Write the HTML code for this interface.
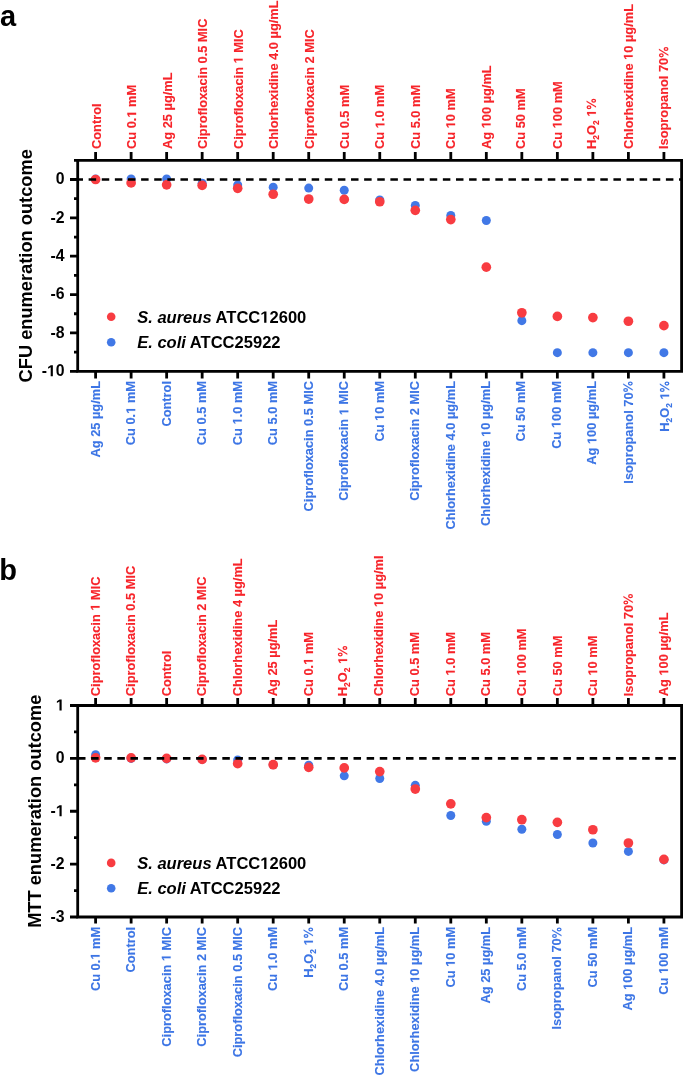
<!DOCTYPE html>
<html><head><meta charset="utf-8"><style>
html,body{margin:0;padding:0;background:#fff;}
svg{display:block;will-change:transform;}
text{font-family:"Liberation Sans",sans-serif;font-weight:bold;}
.lt{font-size:12.83px;fill:#f7242a;stroke:#f7242a;stroke-width:0.12px;}
.lt~g path{stroke-width:19.2;}
.lb{font-size:12.83px;fill:#3c75e5;stroke:#3c75e5;stroke-width:0.12px;}
.lb~g path{stroke-width:19.2;}
.gl path{stroke-width:0;}
.sub{font-size:8.47px;}
.tk{font-size:15.8px;fill:#000;}
.ti{font-size:18.25px;fill:#000;}
.lg{font-size:16.55px;fill:#000;}
.pn{font-size:29px;fill:#000;}
</style></head><body>
<svg width="685" height="1077" viewBox="0 0 685 1077">
<rect width="685" height="1077" fill="#fff"/>
<circle cx="95.6" cy="179.1" r="4.5" fill="#4178e6"/>
<circle cx="131.12" cy="178.91" r="4.5" fill="#4178e6"/>
<circle cx="166.64" cy="178.91" r="4.5" fill="#4178e6"/>
<circle cx="202.16" cy="183.13" r="4.5" fill="#4178e6"/>
<circle cx="237.68" cy="185.04" r="4.5" fill="#4178e6"/>
<circle cx="273.2" cy="187.15" r="4.5" fill="#4178e6"/>
<circle cx="308.72" cy="188.11" r="4.5" fill="#4178e6"/>
<circle cx="344.24" cy="190.22" r="4.5" fill="#4178e6"/>
<circle cx="379.76" cy="200.01" r="4.5" fill="#4178e6"/>
<circle cx="415.28" cy="205.38" r="4.5" fill="#4178e6"/>
<circle cx="450.8" cy="215.54" r="4.5" fill="#4178e6"/>
<circle cx="486.32" cy="220.53" r="4.5" fill="#4178e6"/>
<circle cx="521.84" cy="320.66" r="4.5" fill="#4178e6"/>
<circle cx="557.36" cy="352.69" r="4.5" fill="#4178e6"/>
<circle cx="592.88" cy="352.69" r="4.5" fill="#4178e6"/>
<circle cx="628.4" cy="352.69" r="4.5" fill="#4178e6"/>
<circle cx="663.92" cy="352.69" r="4.5" fill="#4178e6"/>
<circle cx="95.6" cy="179.48" r="4.85" fill="#f83c41"/>
<circle cx="131.12" cy="182.93" r="4.85" fill="#f83c41"/>
<circle cx="166.64" cy="184.85" r="4.85" fill="#f83c41"/>
<circle cx="202.16" cy="185.43" r="4.85" fill="#f83c41"/>
<circle cx="237.68" cy="188.31" r="4.85" fill="#f83c41"/>
<circle cx="273.2" cy="194.25" r="4.85" fill="#f83c41"/>
<circle cx="308.72" cy="199.05" r="4.85" fill="#f83c41"/>
<circle cx="344.24" cy="199.43" r="4.85" fill="#f83c41"/>
<circle cx="379.76" cy="201.73" r="4.85" fill="#f83c41"/>
<circle cx="415.28" cy="210.36" r="4.85" fill="#f83c41"/>
<circle cx="450.8" cy="219.57" r="4.85" fill="#f83c41"/>
<circle cx="486.32" cy="267.14" r="4.85" fill="#f83c41"/>
<circle cx="521.84" cy="312.8" r="4.85" fill="#f83c41"/>
<circle cx="557.36" cy="316.44" r="4.85" fill="#f83c41"/>
<circle cx="592.88" cy="317.59" r="4.85" fill="#f83c41"/>
<circle cx="628.4" cy="321.24" r="4.85" fill="#f83c41"/>
<circle cx="663.92" cy="325.65" r="4.85" fill="#f83c41"/>
<line x1="77.7" y1="179.48" x2="681.6" y2="179.48" stroke="#000" stroke-width="2.7" stroke-dasharray="7.5 5.62" stroke-dashoffset="2.2"/>
<path d="M77.7 160.3H681.6V371.3H77.7Z" fill="none" stroke="#000" stroke-width="2.8" stroke-linejoin="miter" stroke-linecap="square"/>
<path d="M70 179.48H77.7M70 217.85H77.7M70 256.21H77.7M70 294.57H77.7M70 332.94H77.7M70 371.3H77.7M74 160.3H77.7M74 198.66H77.7M74 237.03H77.7M74 275.39H77.7M74 313.75H77.7M74 352.12H77.7M95.6 152.0V160.3M95.6 371.3V378.5M131.12 152.0V160.3M131.12 371.3V378.5M166.64 152.0V160.3M166.64 371.3V378.5M202.16 152.0V160.3M202.16 371.3V378.5M237.68 152.0V160.3M237.68 371.3V378.5M273.2 152.0V160.3M273.2 371.3V378.5M308.72 152.0V160.3M308.72 371.3V378.5M344.24 152.0V160.3M344.24 371.3V378.5M379.76 152.0V160.3M379.76 371.3V378.5M415.28 152.0V160.3M415.28 371.3V378.5M450.8 152.0V160.3M450.8 371.3V378.5M486.32 152.0V160.3M486.32 371.3V378.5M521.84 152.0V160.3M521.84 371.3V378.5M557.36 152.0V160.3M557.36 371.3V378.5M592.88 152.0V160.3M592.88 371.3V378.5M628.4 152.0V160.3M628.4 371.3V378.5M663.92 152.0V160.3M663.92 371.3V378.5" stroke="#000" stroke-width="2.8" fill="none"/>
<text class="tk" x="64.6" y="184.38" text-anchor="end">0</text>
<text class="tk" x="64.6" y="222.75" text-anchor="end">-2</text>
<text class="tk" x="64.6" y="261.11" text-anchor="end">-4</text>
<text class="tk" x="64.6" y="299.47" text-anchor="end">-6</text>
<text class="tk" x="64.6" y="337.84" text-anchor="end">-8</text>
<text id="t0" class="tk" x="64.6" y="376.2" text-anchor="end">-<tspan visibility="hidden">1</tspan>0</text><g class="gl" transform="translate(47.01 376.20) scale(0.00771 -0.00771)" fill="#000" stroke="#000"><path d="M478 0L478 1170L140 959L140 1180L493 1409L759 1409L759 0Z"/></g>
<g transform="translate(100.6 149.0) rotate(-90)"><text class="lt">Control</text></g>
<g transform="translate(99.7 381.0) rotate(-90)"><text class="lb" text-anchor="end">Ag 25 µg/mL</text></g>
<g transform="translate(136.12 149.0) rotate(-90)"><text id="t1" class="lt">Cu 0.<tspan visibility="hidden">1</tspan> mM</text><g class="gl" transform="translate(31.38 0.00) scale(0.00626 -0.00626)" fill="#f7242a" stroke="#f7242a"><path d="M478 0L478 1170L140 959L140 1180L493 1409L759 1409L759 0Z"/></g></g>
<g transform="translate(135.22 381.0) rotate(-90)"><text id="t2" class="lb" text-anchor="end">Cu 0.<tspan visibility="hidden">1</tspan> mM</text><g class="gl" transform="translate(-32.81 0.00) scale(0.00626 -0.00626)" fill="#3c75e5" stroke="#3c75e5"><path d="M478 0L478 1170L140 959L140 1180L493 1409L759 1409L759 0Z"/></g></g>
<g transform="translate(171.64 149.0) rotate(-90)"><text class="lt">Ag 25 µg/mL</text></g>
<g transform="translate(170.74 381.0) rotate(-90)"><text class="lb" text-anchor="end">Control</text></g>
<g transform="translate(207.16 149.0) rotate(-90)"><text class="lt">Ciprofloxacin 0.5 MIC</text></g>
<g transform="translate(206.26 381.0) rotate(-90)"><text class="lb" text-anchor="end">Cu 0.5 mM</text></g>
<g transform="translate(242.68 149.0) rotate(-90)"><text id="t3" class="lt">Ciprofloxacin <tspan visibility="hidden">1</tspan> MIC</text><g class="gl" transform="translate(85.55 0.00) scale(0.00626 -0.00626)" fill="#f7242a" stroke="#f7242a"><path d="M478 0L478 1170L140 959L140 1180L493 1409L759 1409L759 0Z"/></g></g>
<g transform="translate(241.78 381.0) rotate(-90)"><text id="t4" class="lb" text-anchor="end">Cu <tspan visibility="hidden">1</tspan>.0 mM</text><g class="gl" transform="translate(-43.50 0.00) scale(0.00626 -0.00626)" fill="#3c75e5" stroke="#3c75e5"><path d="M478 0L478 1170L140 959L140 1180L493 1409L759 1409L759 0Z"/></g></g>
<g transform="translate(278.2 149.0) rotate(-90)"><text class="lt">Chlorhexidine 4.0 µg/mL</text></g>
<g transform="translate(277.3 381.0) rotate(-90)"><text class="lb" text-anchor="end">Cu 5.0 mM</text></g>
<g transform="translate(313.72 149.0) rotate(-90)"><text class="lt">Ciprofloxacin 2 MIC</text></g>
<g transform="translate(312.82 381.0) rotate(-90)"><text class="lb" text-anchor="end">Ciprofloxacin 0.5 MIC</text></g>
<g transform="translate(348.94 149.0) rotate(-90)"><text class="lt">Cu 0.5 mM</text></g>
<g transform="translate(348.34 381.0) rotate(-90)"><text id="t5" class="lb" text-anchor="end">Ciprofloxacin <tspan visibility="hidden">1</tspan> MIC</text><g class="gl" transform="translate(-34.23 0.00) scale(0.00626 -0.00626)" fill="#3c75e5" stroke="#3c75e5"><path d="M478 0L478 1170L140 959L140 1180L493 1409L759 1409L759 0Z"/></g></g>
<g transform="translate(384.46 149.0) rotate(-90)"><text id="t6" class="lt">Cu <tspan visibility="hidden">1</tspan>.0 mM</text><g class="gl" transform="translate(20.67 0.00) scale(0.00626 -0.00626)" fill="#f7242a" stroke="#f7242a"><path d="M478 0L478 1170L140 959L140 1180L493 1409L759 1409L759 0Z"/></g></g>
<g transform="translate(383.86 381.0) rotate(-90)"><text id="t7" class="lb" text-anchor="end">Cu <tspan visibility="hidden">1</tspan>0 mM</text><g class="gl" transform="translate(-39.94 0.00) scale(0.00626 -0.00626)" fill="#3c75e5" stroke="#3c75e5"><path d="M478 0L478 1170L140 959L140 1180L493 1409L759 1409L759 0Z"/></g></g>
<g transform="translate(419.98 149.0) rotate(-90)"><text class="lt">Cu 5.0 mM</text></g>
<g transform="translate(419.38 381.0) rotate(-90)"><text class="lb" text-anchor="end">Ciprofloxacin 2 MIC</text></g>
<g transform="translate(455.1 149.0) rotate(-90)"><text id="t8" class="lt">Cu <tspan visibility="hidden">1</tspan>0 mM</text><g class="gl" transform="translate(20.67 0.00) scale(0.00626 -0.00626)" fill="#f7242a" stroke="#f7242a"><path d="M478 0L478 1170L140 959L140 1180L493 1409L759 1409L759 0Z"/></g></g>
<g transform="translate(454.9 381.0) rotate(-90)"><text class="lb" text-anchor="end">Chlorhexidine 4.0 µg/mL</text></g>
<g transform="translate(490.62 149.0) rotate(-90)"><text id="t9" class="lt">Ag <tspan visibility="hidden">1</tspan>00 µg/mL</text><g class="gl" transform="translate(20.67 0.00) scale(0.00626 -0.00626)" fill="#f7242a" stroke="#f7242a"><path d="M478 0L478 1170L140 959L140 1180L493 1409L759 1409L759 0Z"/></g></g>
<g transform="translate(490.42 381.0) rotate(-90)"><text id="t10" class="lb" text-anchor="end">Chlorhexidine <tspan visibility="hidden">1</tspan>0 µg/mL</text><g class="gl" transform="translate(-55.88 0.00) scale(0.00626 -0.00626)" fill="#3c75e5" stroke="#3c75e5"><path d="M478 0L478 1170L140 959L140 1180L493 1409L759 1409L759 0Z"/></g></g>
<g transform="translate(525.44 149.0) rotate(-90)"><text class="lt">Cu 50 mM</text></g>
<g transform="translate(525.04 381.0) rotate(-90)"><text class="lb" text-anchor="end">Cu 50 mM</text></g>
<g transform="translate(561.66 149.0) rotate(-90)"><text id="t11" class="lt">Cu <tspan visibility="hidden">1</tspan>00 mM</text><g class="gl" transform="translate(20.67 0.00) scale(0.00626 -0.00626)" fill="#f7242a" stroke="#f7242a"><path d="M478 0L478 1170L140 959L140 1180L493 1409L759 1409L759 0Z"/></g></g>
<g transform="translate(560.56 381.0) rotate(-90)"><text id="t12" class="lb" text-anchor="end">Cu <tspan visibility="hidden">1</tspan>00 mM</text><g class="gl" transform="translate(-47.08 0.00) scale(0.00626 -0.00626)" fill="#3c75e5" stroke="#3c75e5"><path d="M478 0L478 1170L140 959L140 1180L493 1409L759 1409L759 0Z"/></g></g>
<g transform="translate(595.88 149.0) rotate(-90)"><text id="t13" class="lt">H<tspan class="sub" dy="3">2</tspan><tspan dy="-3">O</tspan><tspan class="sub" dy="3">2</tspan><tspan dy="-3"> <tspan visibility="hidden">1</tspan><tspan visibility="hidden">%</tspan></tspan></text><g class="gl" transform="translate(32.27 0.00) scale(0.00626 -0.00626)" fill="#f7242a" stroke="#f7242a"><path d="M478 0L478 1170L140 959L140 1180L493 1409L759 1409L759 0Z"/></g><g class="gl" transform="translate(39.41 0.00) scale(0.00626 -0.00626)" fill="#f7242a" stroke="#f7242a"><ellipse cx="380" cy="1100" rx="225" ry="290" fill="none" stroke-width="200"/><ellipse cx="1405" cy="350" rx="225" ry="290" fill="none" stroke-width="200"/><path d="M320 -16L520 -16L1420 1480L1220 1480Z"/></g></g>
<g transform="translate(596.38 381.0) rotate(-90)"><text id="t14" class="lb" text-anchor="end">Ag <tspan visibility="hidden">1</tspan>00 µg/mL</text><g class="gl" transform="translate(-63.02 0.00) scale(0.00626 -0.00626)" fill="#3c75e5" stroke="#3c75e5"><path d="M478 0L478 1170L140 959L140 1180L493 1409L759 1409L759 0Z"/></g></g>
<g transform="translate(632.7 149.0) rotate(-90)"><text id="t15" class="lt">Chlorhexidine <tspan visibility="hidden">1</tspan>0 µg/mL</text><g class="gl" transform="translate(89.11 0.00) scale(0.00626 -0.00626)" fill="#f7242a" stroke="#f7242a"><path d="M478 0L478 1170L140 959L140 1180L493 1409L759 1409L759 0Z"/></g></g>
<g transform="translate(632.5 381.0) rotate(-90)"><text id="t16" class="lb" text-anchor="end">Isopropanol 70<tspan visibility="hidden">%</tspan></text><g class="gl" transform="translate(-11.42 0.00) scale(0.00626 -0.00626)" fill="#3c75e5" stroke="#3c75e5"><ellipse cx="380" cy="1100" rx="225" ry="290" fill="none" stroke-width="200"/><ellipse cx="1405" cy="350" rx="225" ry="290" fill="none" stroke-width="200"/><path d="M320 -16L520 -16L1420 1480L1220 1480Z"/></g></g>
<g transform="translate(668.22 149.0) rotate(-90)"><text id="t17" class="lt">Isopropanol 70<tspan visibility="hidden">%</tspan></text><g class="gl" transform="translate(91.25 0.00) scale(0.00626 -0.00626)" fill="#f7242a" stroke="#f7242a"><ellipse cx="380" cy="1100" rx="225" ry="290" fill="none" stroke-width="200"/><ellipse cx="1405" cy="350" rx="225" ry="290" fill="none" stroke-width="200"/><path d="M320 -16L520 -16L1420 1480L1220 1480Z"/></g></g>
<g transform="translate(669.12 381.0) rotate(-90)"><text id="t18" class="lb" text-anchor="end">H<tspan class="sub" dy="3">2</tspan><tspan dy="-3">O</tspan><tspan class="sub" dy="3">2</tspan><tspan dy="-3"> <tspan visibility="hidden">1</tspan><tspan visibility="hidden">%</tspan></tspan></text><g class="gl" transform="translate(-18.56 0.00) scale(0.00626 -0.00626)" fill="#3c75e5" stroke="#3c75e5"><path d="M478 0L478 1170L140 959L140 1180L493 1409L759 1409L759 0Z"/></g><g class="gl" transform="translate(-11.42 0.00) scale(0.00626 -0.00626)" fill="#3c75e5" stroke="#3c75e5"><ellipse cx="380" cy="1100" rx="225" ry="290" fill="none" stroke-width="200"/><ellipse cx="1405" cy="350" rx="225" ry="290" fill="none" stroke-width="200"/><path d="M320 -16L520 -16L1420 1480L1220 1480Z"/></g></g>
<text class="ti" text-anchor="middle" transform="translate(32.3 265.8) rotate(-90)">CFU enumeration outcome</text>
<text class="pn" x="0" y="25.5">a</text>
<circle cx="111.2" cy="316.8" r="4.3" fill="#f83c41"/>
<circle cx="111.2" cy="342.3" r="4.3" fill="#4178e6"/>
<text id="t19" class="lg" x="137.2" y="322.8"><tspan font-style="italic">S. aureus</tspan> ATCC<tspan visibility="hidden">1</tspan>2600</text><g class="gl" transform="translate(260.31 322.80) scale(0.00808 -0.00808)" fill="#000" stroke="#000"><path d="M478 0L478 1170L140 959L140 1180L493 1409L759 1409L759 0Z"/></g>
<text class="lg" x="137.2" y="348.3"><tspan font-style="italic">E. coli</tspan> ATCC25922</text>
<circle cx="95.6" cy="754.67" r="4.5" fill="#4178e6"/>
<circle cx="131.12" cy="758.38" r="4.5" fill="#4178e6"/>
<circle cx="166.64" cy="758.9" r="4.5" fill="#4178e6"/>
<circle cx="202.16" cy="759.43" r="4.5" fill="#4178e6"/>
<circle cx="237.68" cy="759.96" r="4.5" fill="#4178e6"/>
<circle cx="273.2" cy="764.72" r="4.5" fill="#4178e6"/>
<circle cx="308.72" cy="765.25" r="4.5" fill="#4178e6"/>
<circle cx="344.24" cy="775.82" r="4.5" fill="#4178e6"/>
<circle cx="379.76" cy="778.47" r="4.5" fill="#4178e6"/>
<circle cx="415.28" cy="785.34" r="4.5" fill="#4178e6"/>
<circle cx="450.8" cy="815.48" r="4.5" fill="#4178e6"/>
<circle cx="486.32" cy="821.3" r="4.5" fill="#4178e6"/>
<circle cx="521.84" cy="829.23" r="4.5" fill="#4178e6"/>
<circle cx="557.36" cy="834.51" r="4.5" fill="#4178e6"/>
<circle cx="592.88" cy="842.98" r="4.5" fill="#4178e6"/>
<circle cx="628.4" cy="851.43" r="4.5" fill="#4178e6"/>
<circle cx="663.92" cy="859.89" r="4.5" fill="#4178e6"/>
<circle cx="95.6" cy="757.85" r="4.85" fill="#f83c41"/>
<circle cx="131.12" cy="757.85" r="4.85" fill="#f83c41"/>
<circle cx="166.64" cy="758.38" r="4.85" fill="#f83c41"/>
<circle cx="202.16" cy="759.43" r="4.85" fill="#f83c41"/>
<circle cx="237.68" cy="763.66" r="4.85" fill="#f83c41"/>
<circle cx="273.2" cy="764.72" r="4.85" fill="#f83c41"/>
<circle cx="308.72" cy="767.36" r="4.85" fill="#f83c41"/>
<circle cx="344.24" cy="767.89" r="4.85" fill="#f83c41"/>
<circle cx="379.76" cy="771.59" r="4.85" fill="#f83c41"/>
<circle cx="415.28" cy="789.04" r="4.85" fill="#f83c41"/>
<circle cx="450.8" cy="803.85" r="4.85" fill="#f83c41"/>
<circle cx="486.32" cy="817.6" r="4.85" fill="#f83c41"/>
<circle cx="521.84" cy="819.71" r="4.85" fill="#f83c41"/>
<circle cx="557.36" cy="822.35" r="4.85" fill="#f83c41"/>
<circle cx="592.88" cy="829.76" r="4.85" fill="#f83c41"/>
<circle cx="628.4" cy="842.98" r="4.85" fill="#f83c41"/>
<circle cx="663.92" cy="859.37" r="4.85" fill="#f83c41"/>
<line x1="77.7" y1="758.38" x2="681.6" y2="758.38" stroke="#000" stroke-width="2.7" stroke-dasharray="7.5 5.62" stroke-dashoffset="-0.3"/>
<path d="M77.7 705.5H681.6V917H77.7Z" fill="none" stroke="#000" stroke-width="2.8" stroke-linejoin="miter" stroke-linecap="square"/>
<path d="M70 705.5H77.7M70 758.38H77.7M70 811.25H77.7M70 864.12H77.7M70 917H77.7M74 731.94H77.7M74 784.81H77.7M74 837.69H77.7M74 890.56H77.7M95.6 698.0V705.5M95.6 917V923.5M131.12 698.0V705.5M131.12 917V923.5M166.64 698.0V705.5M166.64 917V923.5M202.16 698.0V705.5M202.16 917V923.5M237.68 698.0V705.5M237.68 917V923.5M273.2 698.0V705.5M273.2 917V923.5M308.72 698.0V705.5M308.72 917V923.5M344.24 698.0V705.5M344.24 917V923.5M379.76 698.0V705.5M379.76 917V923.5M415.28 698.0V705.5M415.28 917V923.5M450.8 698.0V705.5M450.8 917V923.5M486.32 698.0V705.5M486.32 917V923.5M521.84 698.0V705.5M521.84 917V923.5M557.36 698.0V705.5M557.36 917V923.5M592.88 698.0V705.5M592.88 917V923.5M628.4 698.0V705.5M628.4 917V923.5M663.92 698.0V705.5M663.92 917V923.5" stroke="#000" stroke-width="2.8" fill="none"/>
<text id="t20" class="tk" x="64.6" y="710.4" text-anchor="end"><tspan visibility="hidden">1</tspan></text><g class="gl" transform="translate(55.80 710.40) scale(0.00771 -0.00771)" fill="#000" stroke="#000"><path d="M478 0L478 1170L140 959L140 1180L493 1409L759 1409L759 0Z"/></g>
<text class="tk" x="64.6" y="763.27" text-anchor="end">0</text>
<text id="t21" class="tk" x="64.6" y="816.15" text-anchor="end">-<tspan visibility="hidden">1</tspan></text><g class="gl" transform="translate(55.80 816.15) scale(0.00771 -0.00771)" fill="#000" stroke="#000"><path d="M478 0L478 1170L140 959L140 1180L493 1409L759 1409L759 0Z"/></g>
<text class="tk" x="64.6" y="869.02" text-anchor="end">-2</text>
<text class="tk" x="64.6" y="921.9" text-anchor="end">-3</text>
<g transform="translate(99.6 696.2) rotate(-90)"><text id="t22" class="lt">Ciprofloxacin <tspan visibility="hidden">1</tspan> MIC</text><g class="gl" transform="translate(85.55 0.00) scale(0.00626 -0.00626)" fill="#f7242a" stroke="#f7242a"><path d="M478 0L478 1170L140 959L140 1180L493 1409L759 1409L759 0Z"/></g></g>
<g transform="translate(99.6 926.9) rotate(-90)"><text id="t23" class="lb" text-anchor="end">Cu 0.<tspan visibility="hidden">1</tspan> mM</text><g class="gl" transform="translate(-32.81 0.00) scale(0.00626 -0.00626)" fill="#3c75e5" stroke="#3c75e5"><path d="M478 0L478 1170L140 959L140 1180L493 1409L759 1409L759 0Z"/></g></g>
<g transform="translate(135.12 696.2) rotate(-90)"><text class="lt">Ciprofloxacin 0.5 MIC</text></g>
<g transform="translate(135.12 926.9) rotate(-90)"><text class="lb" text-anchor="end">Control</text></g>
<g transform="translate(170.64 696.2) rotate(-90)"><text class="lt">Control</text></g>
<g transform="translate(170.64 926.9) rotate(-90)"><text id="t24" class="lb" text-anchor="end">Ciprofloxacin <tspan visibility="hidden">1</tspan> MIC</text><g class="gl" transform="translate(-34.23 0.00) scale(0.00626 -0.00626)" fill="#3c75e5" stroke="#3c75e5"><path d="M478 0L478 1170L140 959L140 1180L493 1409L759 1409L759 0Z"/></g></g>
<g transform="translate(206.16 696.2) rotate(-90)"><text class="lt">Ciprofloxacin 2 MIC</text></g>
<g transform="translate(206.16 926.9) rotate(-90)"><text class="lb" text-anchor="end">Ciprofloxacin 2 MIC</text></g>
<g transform="translate(241.68 696.2) rotate(-90)"><text class="lt">Chlorhexidine 4 µg/mL</text></g>
<g transform="translate(241.68 926.9) rotate(-90)"><text class="lb" text-anchor="end">Ciprofloxacin 0.5 MIC</text></g>
<g transform="translate(277.2 696.2) rotate(-90)"><text class="lt">Ag 25 µg/mL</text></g>
<g transform="translate(277.2 926.9) rotate(-90)"><text id="t25" class="lb" text-anchor="end">Cu <tspan visibility="hidden">1</tspan>.0 mM</text><g class="gl" transform="translate(-43.50 0.00) scale(0.00626 -0.00626)" fill="#3c75e5" stroke="#3c75e5"><path d="M478 0L478 1170L140 959L140 1180L493 1409L759 1409L759 0Z"/></g></g>
<g transform="translate(312.72 696.2) rotate(-90)"><text id="t26" class="lt">Cu 0.<tspan visibility="hidden">1</tspan> mM</text><g class="gl" transform="translate(31.38 0.00) scale(0.00626 -0.00626)" fill="#f7242a" stroke="#f7242a"><path d="M478 0L478 1170L140 959L140 1180L493 1409L759 1409L759 0Z"/></g></g>
<g transform="translate(312.92 926.9) rotate(-90)"><text id="t27" class="lb" text-anchor="end">H<tspan class="sub" dy="3">2</tspan><tspan dy="-3">O</tspan><tspan class="sub" dy="3">2</tspan><tspan dy="-3"> <tspan visibility="hidden">1</tspan><tspan visibility="hidden">%</tspan></tspan></text><g class="gl" transform="translate(-18.56 0.00) scale(0.00626 -0.00626)" fill="#3c75e5" stroke="#3c75e5"><path d="M478 0L478 1170L140 959L140 1180L493 1409L759 1409L759 0Z"/></g><g class="gl" transform="translate(-11.42 0.00) scale(0.00626 -0.00626)" fill="#3c75e5" stroke="#3c75e5"><ellipse cx="380" cy="1100" rx="225" ry="290" fill="none" stroke-width="200"/><ellipse cx="1405" cy="350" rx="225" ry="290" fill="none" stroke-width="200"/><path d="M320 -16L520 -16L1420 1480L1220 1480Z"/></g></g>
<g transform="translate(347.14 696.2) rotate(-90)"><text id="t28" class="lt">H<tspan class="sub" dy="3">2</tspan><tspan dy="-3">O</tspan><tspan class="sub" dy="3">2</tspan><tspan dy="-3"> <tspan visibility="hidden">1</tspan><tspan visibility="hidden">%</tspan></tspan></text><g class="gl" transform="translate(32.27 0.00) scale(0.00626 -0.00626)" fill="#f7242a" stroke="#f7242a"><path d="M478 0L478 1170L140 959L140 1180L493 1409L759 1409L759 0Z"/></g><g class="gl" transform="translate(39.41 0.00) scale(0.00626 -0.00626)" fill="#f7242a" stroke="#f7242a"><ellipse cx="380" cy="1100" rx="225" ry="290" fill="none" stroke-width="200"/><ellipse cx="1405" cy="350" rx="225" ry="290" fill="none" stroke-width="200"/><path d="M320 -16L520 -16L1420 1480L1220 1480Z"/></g></g>
<g transform="translate(348.24 926.9) rotate(-90)"><text class="lb" text-anchor="end">Cu 0.5 mM</text></g>
<g transform="translate(383.16 696.2) rotate(-90)"><text id="t29" class="lt">Chlorhexidine <tspan visibility="hidden">1</tspan>0 µg/ml</text><g class="gl" transform="translate(89.11 0.00) scale(0.00626 -0.00626)" fill="#f7242a" stroke="#f7242a"><path d="M478 0L478 1170L140 959L140 1180L493 1409L759 1409L759 0Z"/></g></g>
<g transform="translate(383.76 926.9) rotate(-90)"><text class="lb" text-anchor="end">Chlorhexidine 4.0 µg/mL</text></g>
<g transform="translate(419.28 696.2) rotate(-90)"><text class="lt">Cu 0.5 mM</text></g>
<g transform="translate(419.28 926.9) rotate(-90)"><text id="t30" class="lb" text-anchor="end">Chlorhexidine <tspan visibility="hidden">1</tspan>0 µg/mL</text><g class="gl" transform="translate(-55.88 0.00) scale(0.00626 -0.00626)" fill="#3c75e5" stroke="#3c75e5"><path d="M478 0L478 1170L140 959L140 1180L493 1409L759 1409L759 0Z"/></g></g>
<g transform="translate(454.8 696.2) rotate(-90)"><text id="t31" class="lt">Cu <tspan visibility="hidden">1</tspan>.0 mM</text><g class="gl" transform="translate(20.67 0.00) scale(0.00626 -0.00626)" fill="#f7242a" stroke="#f7242a"><path d="M478 0L478 1170L140 959L140 1180L493 1409L759 1409L759 0Z"/></g></g>
<g transform="translate(454.8 926.9) rotate(-90)"><text id="t32" class="lb" text-anchor="end">Cu <tspan visibility="hidden">1</tspan>0 mM</text><g class="gl" transform="translate(-39.94 0.00) scale(0.00626 -0.00626)" fill="#3c75e5" stroke="#3c75e5"><path d="M478 0L478 1170L140 959L140 1180L493 1409L759 1409L759 0Z"/></g></g>
<g transform="translate(490.32 696.2) rotate(-90)"><text class="lt">Cu 5.0 mM</text></g>
<g transform="translate(490.32 926.9) rotate(-90)"><text class="lb" text-anchor="end">Ag 25 µg/mL</text></g>
<g transform="translate(525.84 696.2) rotate(-90)"><text id="t33" class="lt">Cu <tspan visibility="hidden">1</tspan>00 mM</text><g class="gl" transform="translate(20.67 0.00) scale(0.00626 -0.00626)" fill="#f7242a" stroke="#f7242a"><path d="M478 0L478 1170L140 959L140 1180L493 1409L759 1409L759 0Z"/></g></g>
<g transform="translate(525.84 926.9) rotate(-90)"><text class="lb" text-anchor="end">Cu 5.0 mM</text></g>
<g transform="translate(561.66 696.2) rotate(-90)"><text class="lt">Cu 50 mM</text></g>
<g transform="translate(561.36 926.9) rotate(-90)"><text id="t34" class="lb" text-anchor="end">Isopropanol 70<tspan visibility="hidden">%</tspan></text><g class="gl" transform="translate(-11.42 0.00) scale(0.00626 -0.00626)" fill="#3c75e5" stroke="#3c75e5"><ellipse cx="380" cy="1100" rx="225" ry="290" fill="none" stroke-width="200"/><ellipse cx="1405" cy="350" rx="225" ry="290" fill="none" stroke-width="200"/><path d="M320 -16L520 -16L1420 1480L1220 1480Z"/></g></g>
<g transform="translate(597.18 696.2) rotate(-90)"><text id="t35" class="lt">Cu <tspan visibility="hidden">1</tspan>0 mM</text><g class="gl" transform="translate(20.67 0.00) scale(0.00626 -0.00626)" fill="#f7242a" stroke="#f7242a"><path d="M478 0L478 1170L140 959L140 1180L493 1409L759 1409L759 0Z"/></g></g>
<g transform="translate(596.88 926.9) rotate(-90)"><text class="lb" text-anchor="end">Cu 50 mM</text></g>
<g transform="translate(632.7 696.2) rotate(-90)"><text id="t36" class="lt">Isopropanol 70<tspan visibility="hidden">%</tspan></text><g class="gl" transform="translate(91.25 0.00) scale(0.00626 -0.00626)" fill="#f7242a" stroke="#f7242a"><ellipse cx="380" cy="1100" rx="225" ry="290" fill="none" stroke-width="200"/><ellipse cx="1405" cy="350" rx="225" ry="290" fill="none" stroke-width="200"/><path d="M320 -16L520 -16L1420 1480L1220 1480Z"/></g></g>
<g transform="translate(632.4 926.9) rotate(-90)"><text id="t37" class="lb" text-anchor="end">Ag <tspan visibility="hidden">1</tspan>00 µg/mL</text><g class="gl" transform="translate(-63.02 0.00) scale(0.00626 -0.00626)" fill="#3c75e5" stroke="#3c75e5"><path d="M478 0L478 1170L140 959L140 1180L493 1409L759 1409L759 0Z"/></g></g>
<g transform="translate(668.22 696.2) rotate(-90)"><text id="t38" class="lt">Ag <tspan visibility="hidden">1</tspan>00 µg/mL</text><g class="gl" transform="translate(20.67 0.00) scale(0.00626 -0.00626)" fill="#f7242a" stroke="#f7242a"><path d="M478 0L478 1170L140 959L140 1180L493 1409L759 1409L759 0Z"/></g></g>
<g transform="translate(667.92 926.9) rotate(-90)"><text id="t39" class="lb" text-anchor="end">Cu <tspan visibility="hidden">1</tspan>00 mM</text><g class="gl" transform="translate(-47.08 0.00) scale(0.00626 -0.00626)" fill="#3c75e5" stroke="#3c75e5"><path d="M478 0L478 1170L140 959L140 1180L493 1409L759 1409L759 0Z"/></g></g>
<text class="ti" text-anchor="middle" transform="translate(41.4 811.25) rotate(-90)">MTT enumeration outcome</text>
<text class="pn" x="-0.8" y="579.9">b</text>
<circle cx="111.2" cy="862.9" r="4.3" fill="#f83c41"/>
<circle cx="111.2" cy="888.3" r="4.3" fill="#4178e6"/>
<text id="t40" class="lg" x="137.2" y="868.9"><tspan font-style="italic">S. aureus</tspan> ATCC<tspan visibility="hidden">1</tspan>2600</text><g class="gl" transform="translate(260.31 868.90) scale(0.00808 -0.00808)" fill="#000" stroke="#000"><path d="M478 0L478 1170L140 959L140 1180L493 1409L759 1409L759 0Z"/></g>
<text class="lg" x="137.2" y="894.3"><tspan font-style="italic">E. coli</tspan> ATCC25922</text>
</svg>
</body></html>
